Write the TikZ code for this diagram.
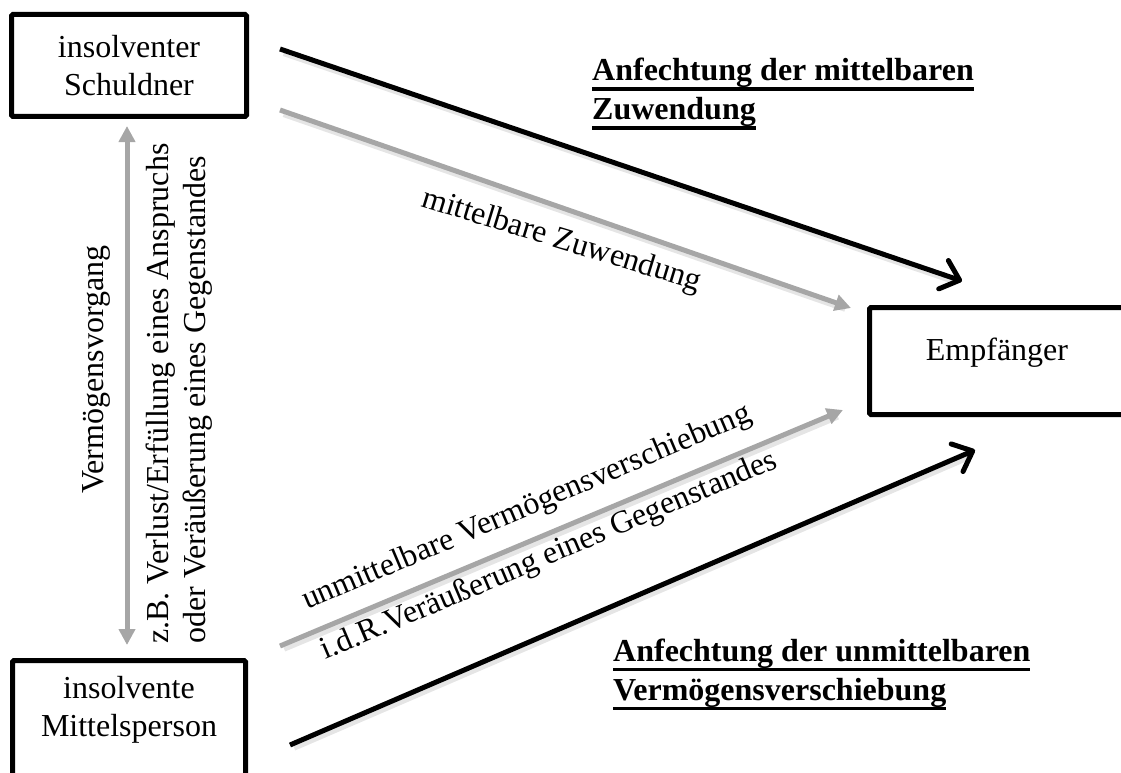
\documentclass[tikz,border=0pt]{standalone}
\usepackage{fontspec}
\setmainfont{Liberation Serif}
\usetikzlibrary{arrows.meta}
\definecolor{arrowgray}{RGB}{166,166,166}
\newcommand\myul[1]{\setbox0\hbox{#1}\rlap{\rule[-10pt]{\wd0}{3.5pt}}\box0}
\begin{document}
\begin{tikzpicture}[x=1pt,y=-1pt,
  every node/.style={font=\fontsize{32}{38}\selectfont, inner sep=0pt},
  box/.style={draw, line width=5pt, rounded corners=1.5pt, inner sep=0pt},
  title/.style={font=\fontsize{32}{38}\selectfont\bfseries, anchor=base west},
  lbl/.style={anchor=base west},
  softshadow/.style={preaction={draw=black, draw opacity=0.10, line width=7pt, arrows=-, shorten >=8pt, shorten <=2pt, transform canvas={shift={(2pt,-3pt)}}}},
  blackarrow/.style={softshadow, line width=5pt, -{Straight Barb[length=17pt,width=30pt,round]}},
  grayarrow/.style={softshadow, draw=arrowgray, line width=5pt, -{Triangle[length=16pt,width=16pt]}},
  grayboth/.style={draw=arrowgray, line width=5pt, {Triangle[length=16pt,width=16pt]}-{Triangle[length=16pt,width=16pt]}}
]
\useasboundingbox (0,0) rectangle (1121,773);

% boxes
\node[box, minimum width=235pt, minimum height=102pt, align=center] (sch) at (129,65.5) {insolventer\\Schuldner};
\node[box, minimum width=233pt, minimum height=150pt, anchor=north] (mp) at (129,658) {};
\node[anchor=north, align=center] (mptext) at (129,676) {insolvente\\Mittelsperson};
\node[box, minimum width=255pt, minimum height=107pt, text height=10pt, text depth=12pt] (emp) at (997,361) {Empfänger};

% arrow end points
\coordinate (a1s) at (280,49);  \coordinate (a1e) at (962,281);
\coordinate (a2s) at (280,110); \coordinate (a2e) at (851,308);
\coordinate (a3s) at (280,646); \coordinate (a3e) at (843,410);
\coordinate (a4s) at (290,745); \coordinate (a4e) at (975,450);

\draw[blackarrow] (a1s) -- (a1e);
\draw[grayarrow] (a2s) -- (a2e);
\draw[grayarrow] (a3s) -- (a3e);
\draw[blackarrow] (a4s) -- (a4e);
\draw[grayboth] ([xshift=-2pt,yshift=-7pt]sch.south) -- ([xshift=-2pt,yshift=13pt]mp.north);

% titles
\node[title] (t1) at (592,81) {\myul{Anfechtung der mittelbaren}};
\node[title] (t2) at (592,120) {\myul{Zuwendung}};
\node[title] (t3) at (613,661) {\myul{Anfechtung der unmittelbaren}};
\node[title] (t4) at (613,700) {\myul{Vermögensverschiebung}};

% diagonal labels
\node[lbl, rotate=-17] (l1) at (420,206) {mittelbare Zuwendung};
\node[lbl, rotate=23] (l2) at (307,610) {unmittelbare Vermögensverschiebung};
\node[lbl, rotate=23] (l3) at (325,660) {i.d.R.Veräußerung eines Gegenstandes};

% vertical labels
\node[lbl, rotate=90] (v1) at (103,494) {Vermögensvorgang};
\node[lbl, rotate=90] (v2) at (168,644) {z.B. Verlust/Erfüllung eines Anspruchs};
\node[lbl, rotate=90] (v3) at (205,644) {oder Veräußerung eines Gegenstandes};
\end{tikzpicture}
\end{document}
